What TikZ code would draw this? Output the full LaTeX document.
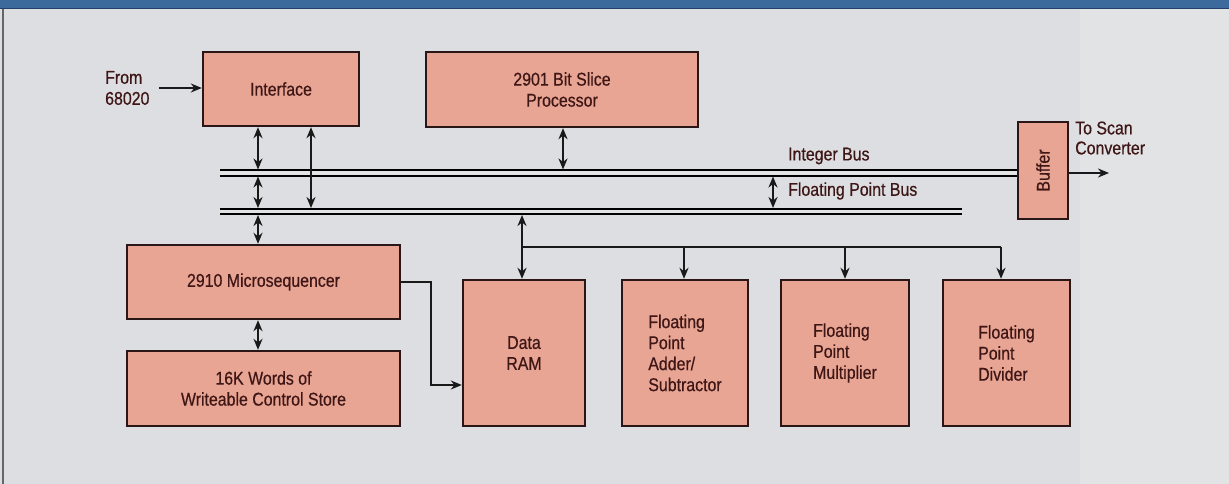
\documentclass[tikz,border=0pt]{standalone}
\usepackage{fontspec}
\setmainfont{Liberation Sans}[FakeStretch=0.86, FakeBold=0.5]
\usetikzlibrary{arrows.meta}

\definecolor{paper}{HTML}{DCDEE1}
\definecolor{paperlight}{HTML}{E2E3E5}
\definecolor{band}{HTML}{3D6A9D}
\definecolor{bandline}{HTML}{22406A}
\definecolor{blockfill}{HTML}{E8A593}
\definecolor{blockline}{HTML}{2A1616}
\definecolor{ink}{HTML}{3E1616}

\tikzset{
  blk/.style={draw=blockline, line width=2.4pt, fill=blockfill, text=ink,
    align=center, inner sep=0pt},
  lbl/.style={text=ink, inner sep=0pt},
  bus/.style={draw=black, line width=2pt, double=paperlight, double distance=3pt},
  wire/.style={draw=black!90, line width=2pt},
  tip/.tip={Stealth[length=11pt,width=9pt,inset=3.5pt]},
  onearr/.style={wire, arrows={-tip}},
  twoarr/.style={wire, arrows={tip-tip}},
}

\begin{document}
\begin{tikzpicture}[x=1pt, y=-1pt,
  font=\fontsize{18.5pt}{21pt}\selectfont]
  % page
  \useasboundingbox (0,0) rectangle (1229,484);
  \fill[paper] (0,0) rectangle (1229,484);
  \fill[paperlight] (1080,9) rectangle (1229,484);
  \fill[band] (0,0) rectangle (1229,8);
  \draw[bandline, line width=1pt] (0,8.5) -- (1229,8.5);
  \draw[black!60, line width=1.5pt] (3,9) -- (3,484);

  % blocks
  \node[blk, minimum width=156pt, minimum height=74pt] (iface) at (281,89) {Interface};
  \node[blk, minimum width=272pt, minimum height=75pt] (proc) at (562,89.5) {2901 Bit Slice\\Processor};
  \node[blk, minimum width=273pt, minimum height=74pt] (mseq) at (263.5,282) {2910 Microsequencer};
  \node[blk, minimum width=273pt, minimum height=75pt] (wcs) at (263.5,388.5) {16K Words of\\Writeable Control Store};
  \node[blk, minimum width=122pt, minimum height=146pt] (ram) at (524,353) {Data\\RAM};
  \node[blk, minimum width=126pt, minimum height=146pt, align=left] (add) at (685,353) {Floating\\Point\\Adder/\\Subtractor};
  \node[blk, minimum width=128pt, minimum height=146pt, align=left] (mul) at (845,353) {Floating\\Point\\Multiplier};
  \node[blk, minimum width=127pt, minimum height=146pt, align=left] (div) at (1006.5,353) {Floating\\Point\\Divider};
  \node[blk, minimum width=50pt, minimum height=97pt] (buf) at (1043,170.5) {};
  \node[lbl, rotate=90] (buflbl) at (buf.center) {Buffer};

  % labels
  \node[lbl, anchor=west, align=left] (from) at (105,88) {From\\68020};
  \node[lbl, anchor=west] (ibl) at (788,156) {Integer Bus};
  \node[lbl, anchor=west] (fbl) at (788,191) {Floating Point Bus};
  \node[lbl, anchor=west, align=left, font=\fontsize{18.5pt}{20pt}\selectfont] (toscan) at (1075,138) {To Scan\\Converter};

  % buses
  \coordinate (ib-w) at (220,173);
  \coordinate (ib-e) at (buf.west |- ib-w);
  \coordinate (fb-w) at (220,211.5);
  \coordinate (fb-e) at (962,211.5);
  \draw[bus] (ib-w) -- (ib-e);
  \draw[bus] (fb-w) -- (fb-e);

  % bus edges used as arrow ends
  \coordinate (ibtopA) at (258,169.5);
  \coordinate (ibbotA) at (258,176.5);
  \coordinate (fbtopA) at (258,208);
  \coordinate (fbbotA) at (258,215);
  \coordinate (fbtopB) at (311,208);
  \coordinate (ibtopC) at (563,169.5);
  \coordinate (ibbotD) at (773,176.5);
  \coordinate (fbtopD) at (773,208);
  \coordinate (fbbotE) at (522,215);

  % input from the host
  \coordinate (fromtail) at (159,88);
  \draw[onearr] (fromtail) -- (fromtail -| iface.west);

  % interface and processor to the buses
  \draw[twoarr] (iface.south -| ibtopA) -- (ibtopA);
  \draw[twoarr] (ibbotA) -- (fbtopA);
  \draw[twoarr] (fbbotA) -- (fbbotA |- mseq.north);
  \draw[twoarr] (iface.south -| fbtopB) -- (fbtopB);
  \draw[twoarr] (proc.south -| ibtopC) -- (ibtopC);
  \draw[twoarr] (ibbotD) -- (fbtopD);

  % sequencer and control store
  \draw[twoarr] (mseq.south -| ibtopA) -- (wcs.north -| ibtopA);
  \coordinate (elbow) at (431,282);
  \coordinate (ramin) at (ram.west |- 0,385);
  \draw[onearr] (mseq.east) -- (elbow) |- (ramin);

  % floating point bus to data RAM and arithmetic units
  \draw[twoarr] (fbbotE) -- (fbbotE |- ram.north);
  \coordinate (br0) at (522,247);
  \coordinate (br1) at (684,247);
  \coordinate (br2) at (845,247);
  \coordinate (br3) at (1001,247);
  \draw[wire] (br0) -- (br3);
  \draw[onearr] (br1) -- (br1 |- add.north);
  \draw[onearr] (br2) -- (br2 |- mul.north);
  \draw[onearr] (br3) -- (br3 |- div.north);

  % output to the scan converter
  \coordinate (outtip) at (1109,173);
  \draw[onearr] (buf.east |- outtip) -- (outtip);
\end{tikzpicture}
\end{document}
